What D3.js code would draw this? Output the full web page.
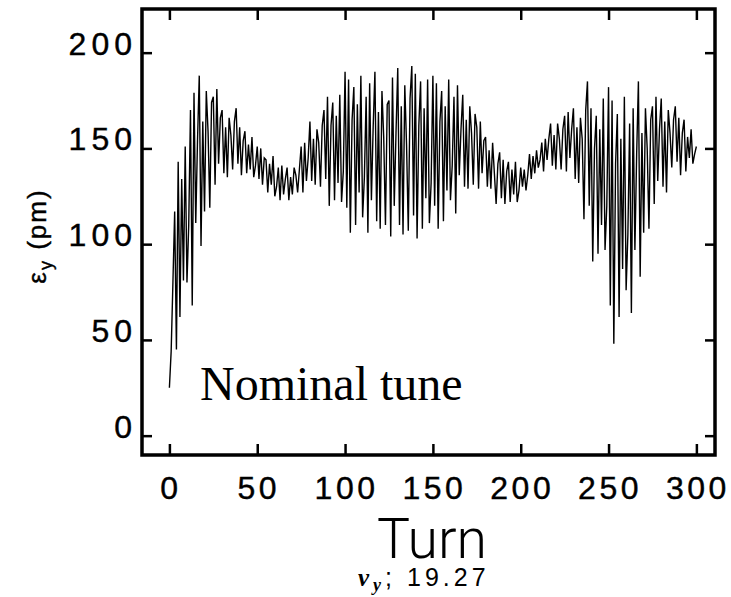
<!DOCTYPE html>
<html>
<head>
<meta charset="utf-8">
<title>Emittance vs turn</title>
<script src="https://d3js.org/d3.v7.min.js"></script>
<style>
  body {margin: 0; background: #fff;}
  .tick text {font-family: "Liberation Sans", Arial, sans-serif; font-size: 32px; letter-spacing: 5px; fill: #000; stroke: #000; stroke-width: 0.4px;}
</style>
</head>
<body>
<div id="chart"></div>
<script>
// vertical emittance per turn (pm)
var emitY = [
  25,44,80,117,45,143,62,134,81,151,80,110,170,68,179,111,154,188,99,164,117,180,159,119,174,
  177,131,181,142,166,170,137,161,135,166,157,139,164,171,142,161,136,154,159,137,152,139,156,135,141,
  151,134,150,131,145,144,127,142,131,146,125,130,140,123,141,126,134,140,123,135,126,140,136,127,139,
  151,127,153,133,145,164,133,155,131,160,153,130,162,170,134,177,120,162,174,123,167,132,178,122,138,
  190,119,186,106,165,182,110,173,127,188,114,135,177,106,184,123,161,190,112,169,108,180,156,110,173,
  175,104,187,120,158,192,110,172,105,183,152,107,176,193,115,189,103,162,185,108,171,124,186,111,132,
  188,120,184,108,164,180,112,172,128,186,123,141,177,116,183,136,160,178,130,165,129,172,158,131,168,
  161,129,164,137,154,156,130,149,129,153,137,121,142,148,124,144,121,138,143,122,139,126,143,122,128,
  140,130,139,128,136,147,134,146,137,149,140,144,153,138,155,144,155,163,141,157,139,163,155,139,160,
  167,138,169,145,160,171,134,161,132,166,155,113,170,185,120,171,91,150,167,95,160,110,176,97,120,
  182,68,175,48,142,168,62,155,87,177,76,105,163,64,171,97,147,185,83,158,106,171,150,108,165,
  172,121,177,133,160,176,130,164,127,170,158,140,165,172,143,166,136,158,165,138,156,145,160,142,147,151
];
var xTicks = [0, 50, 100, 150, 200, 250, 300];
var yTicks = [0, 50, 100, 150, 200];
var tuneValue = "19.27";
var noteText = "Nominal tune";

var width = 731, height = 597;
var box = {left: 142, top: 9, right: 715, bottom: 455};

var x = d3.scaleLinear().domain([-15.6, 310.6]).range([box.left, box.right]);
var y = d3.scaleLinear().domain([-10.1, 222.8]).range([box.bottom, box.top]);

var svg = d3.select("#chart").append("svg")
    .attr("width", width)
    .attr("height", height);

// data trace
var line = d3.line()
    .x(function(d, i) { return x(i); })
    .y(function(d) { return y(d); });

svg.append("path")
    .datum(emitY)
    .attr("d", line)
    .attr("fill", "none")
    .attr("stroke", "#000")
    .attr("stroke-width", 1.4);

// axes with inward ticks on all four sides
var bottom = svg.append("g")
    .attr("transform", "translate(0," + box.bottom + ")")
    .call(d3.axisBottom(x).tickValues(xTicks).tickSize(-11).tickPadding(0));
bottom.selectAll("text").attr("y", 44).attr("dy", 0).attr("dx", 1).style("letter-spacing", "3.5px");

var left = svg.append("g")
    .attr("transform", "translate(" + box.left + ",0)")
    .call(d3.axisLeft(y).tickValues(yTicks).tickSize(-10).tickPadding(5));
left.selectAll("text").attr("dy", 1.5);

svg.append("g")
    .attr("transform", "translate(0," + box.top + ")")
    .call(d3.axisTop(x).tickValues(xTicks).tickSize(-11).tickFormat(""));
svg.append("g")
    .attr("transform", "translate(" + box.right + ",0)")
    .call(d3.axisRight(y).tickValues(yTicks).tickSize(-10).tickFormat(""));

svg.selectAll(".domain").remove();
svg.selectAll(".tick line").attr("stroke", "#000").attr("stroke-width", 2.5);

svg.append("rect")
    .attr("x", box.left)
    .attr("y", box.top)
    .attr("width", box.right - box.left)
    .attr("height", box.bottom - box.top)
    .attr("fill", "none")
    .attr("stroke", "#000")
    .attr("stroke-width", 3.5);

// labels
svg.append("text")
    .attr("x", 432)
    .attr("y", 558)
    .attr("text-anchor", "middle")
    .attr("textLength", 110)
    .attr("lengthAdjust", "spacingAndGlyphs")
    .style("font-family", "Roboto, 'Open Sans', 'Liberation Sans', sans-serif")
    .style("font-size", "56px")
    .style("font-weight", 300)
    .text("Turn");

var tune = svg.append("text")
    .attr("x", 358)
    .attr("y", 586)
    .style("font-family", "'Liberation Sans', Arial, sans-serif")
    .style("font-size", "25px")
    .style("letter-spacing", "4px");
tune.append("tspan").style("font-style", "italic").style("font-weight", "bold").style("font-family", "'Liberation Serif', serif").text("\u03bd");
tune.append("tspan").attr("dy", 5).style("font-style", "italic").style("font-weight", "bold").style("font-family", "'Liberation Serif', serif").style("font-size", "18px").text("y");
tune.append("tspan").attr("dy", -5).text("; " + tuneValue);

var yTitle = svg.append("text")
    .attr("transform", "translate(46,236) rotate(-90)")
    .attr("text-anchor", "middle")
    .style("font-family", "'Liberation Sans', Arial, sans-serif")
    .style("font-size", "26px")
    .style("letter-spacing", "2px")
    .style("stroke", "#000")
    .style("stroke-width", "0.4px");
yTitle.append("tspan").text("\u03b5");
yTitle.append("tspan").attr("dy", 6).style("font-size", "18px").text("y");
yTitle.append("tspan").attr("dy", -6).text(" (pm)");

svg.append("text")
    .attr("x", 200)
    .attr("y", 400)
    .style("font-family", "'Liberation Serif', 'Times New Roman', serif")
    .style("font-size", "48px")
    .text(noteText);
</script>
</body>
</html>
